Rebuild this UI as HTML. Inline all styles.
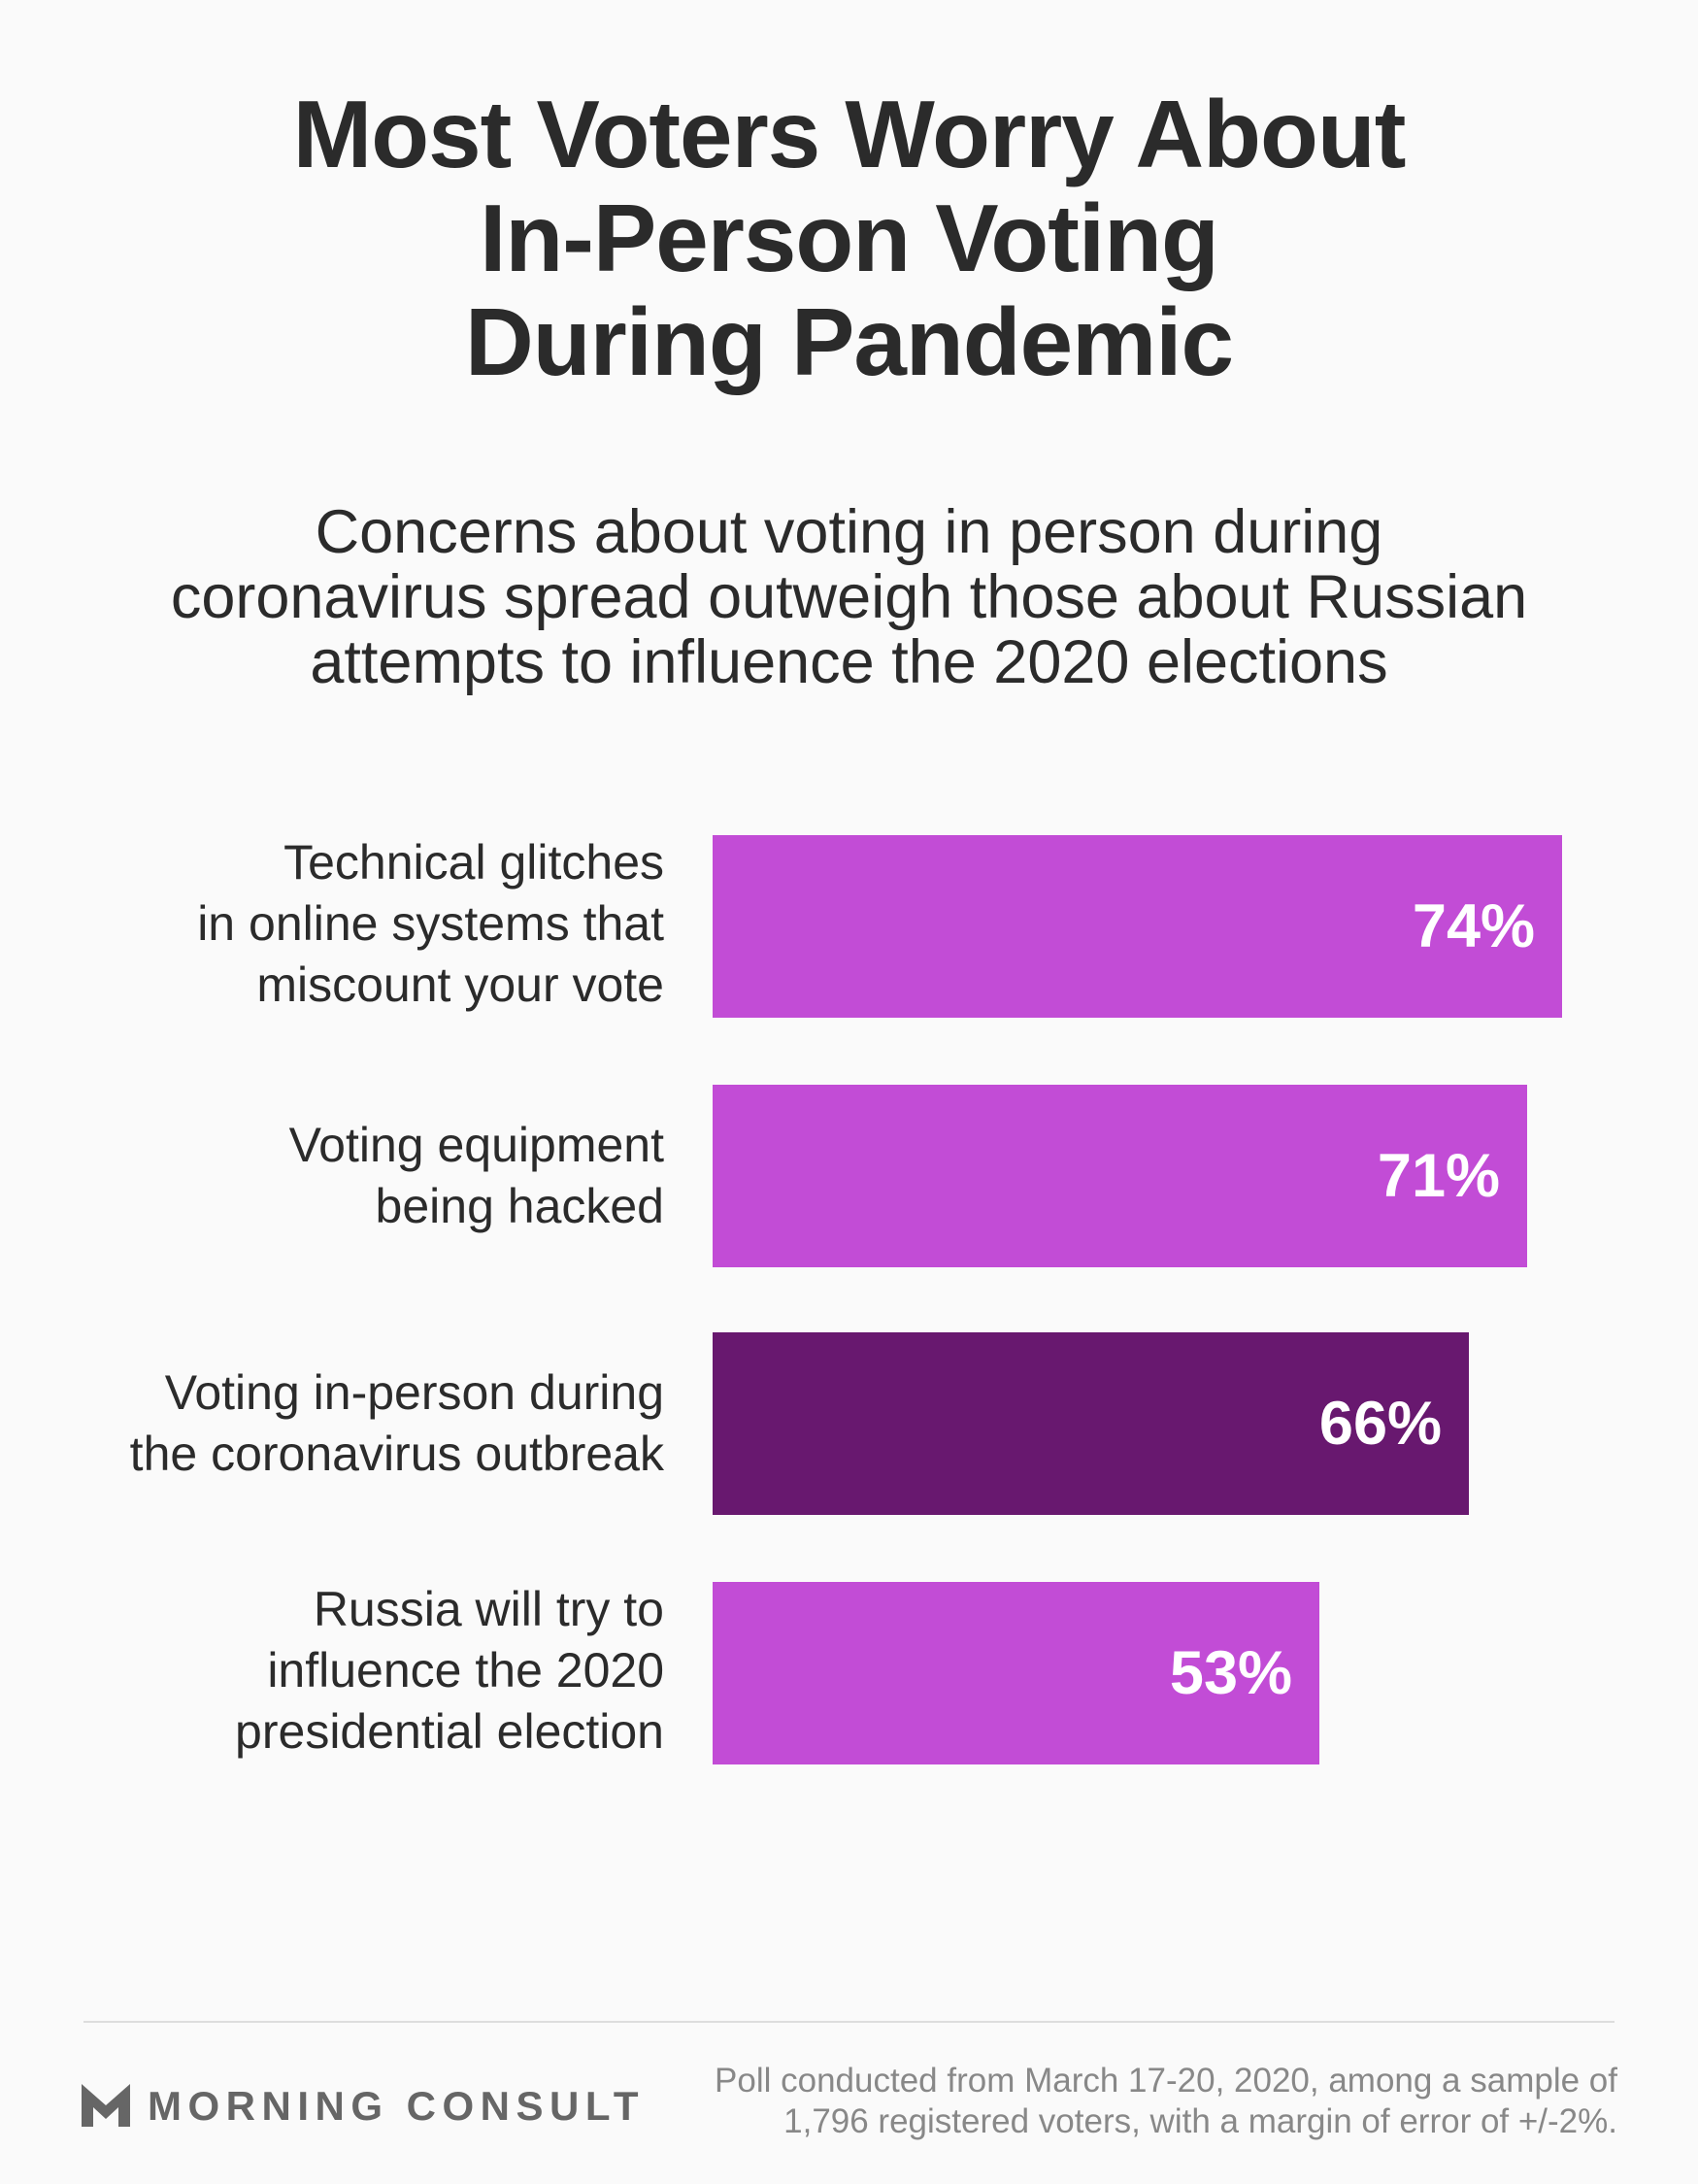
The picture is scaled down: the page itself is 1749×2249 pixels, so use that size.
<!DOCTYPE html>
<html><head><meta charset="utf-8"><style>
body{margin:0;width:1749px;height:2249px;background:#fafafa;position:relative;overflow:hidden;font-family:"Liberation Sans",sans-serif;color:#2b2b2b}
.t{position:absolute;left:0;width:1749px;text-align:center;font-weight:bold;font-size:98px;line-height:107px;top:85px;letter-spacing:-1px}
.s{position:absolute;left:0;width:1749px;text-align:center;font-size:63px;line-height:67px;top:515px}
.l{position:absolute;right:1065px;text-align:right;font-size:50px;line-height:63px}
.b{position:absolute;left:734px;height:188px;background:#c24cd6}
.v{position:absolute;right:28px;top:0;line-height:188px;color:#fff;font-weight:bold;font-size:63px}
.f{position:absolute;right:83px;top:2122px;text-align:right;font-size:35px;line-height:42px;color:#888}
</style></head><body>
<div class="t">Most Voters Worry About<br>In-Person Voting<br>During Pandemic</div>
<div class="s">Concerns about voting in person during<br>coronavirus spread outweigh those about Russian<br>attempts to influence the 2020 elections</div>
<div class="l" style="top:857px">Technical glitches<br>in online systems that<br>miscount your vote</div>
<div class="b" style="top:860px;width:875px"><span class="v">74%</span></div>
<div class="l" style="top:1148px">Voting equipment<br>being hacked</div>
<div class="b" style="top:1117px;width:839px"><span class="v">71%</span></div>
<div class="l" style="top:1403px">Voting in-person during<br>the coronavirus outbreak</div>
<div class="b" style="top:1372px;width:779px;background:#68186f"><span class="v">66%</span></div>
<div class="l" style="top:1626px">Russia will try to<br>influence the 2020<br>presidential election</div>
<div class="b" style="top:1629px;width:625px"><span class="v">53%</span></div>
<div style="position:absolute;left:86px;top:2081px;width:1577px;height:2px;background:#ddd"></div>
<svg style="position:absolute;left:84px;top:2146px" width="50" height="44" viewBox="0 0 50 44"><path d="M0 0 L25 22 L50 0 L50 44 L38 44 L38 24 L25 36 L12 24 L12 44 L0 44Z" fill="#666"/></svg>
<div style="position:absolute;left:152px;top:2144px;font-size:42px;line-height:50px;font-weight:bold;color:#666;letter-spacing:6.5px">MORNING CONSULT</div>
<div class="f">Poll conducted from March 17-20, 2020, among a sample of<br>1,796 registered voters, with a margin of error of +/-2%.</div>
</body></html>
